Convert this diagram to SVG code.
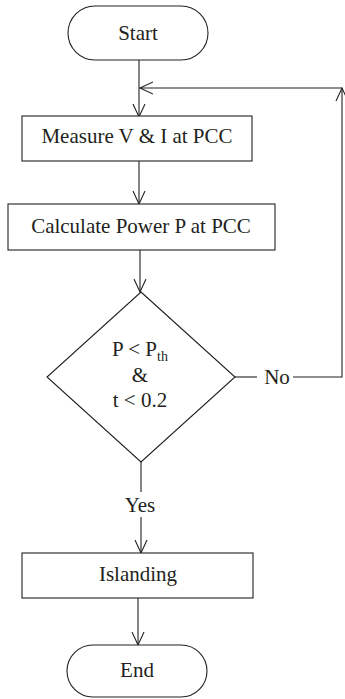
<svg xmlns="http://www.w3.org/2000/svg" width="345" height="699" viewBox="0 0 345 699">
<defs>
<marker id="ah" markerWidth="16" markerHeight="16" refX="13" refY="7" orient="auto" markerUnits="userSpaceOnUse">
<path d="M0,1 L13,7 L0,13" fill="none" stroke="#231f20" stroke-width="1.1"/>
</marker>
</defs>
<style>
.s{fill:#fff;stroke:#231f20;stroke-width:1.1}
.c{fill:none;stroke:#231f20;stroke-width:1.1}
text{font-family:"Liberation Serif","Times New Roman",serif;font-size:21px;fill:#231f20;text-anchor:middle}
</style>
<rect width="345" height="699" fill="#fff"/>
<g id="connectors">
<path class="c" d="M139,60 V117" marker-end="url(#ah)"/>
<path class="c" d="M139,161 V204" marker-end="url(#ah)"/>
<path class="c" d="M140,250 V292" marker-end="url(#ah)"/>
<path class="c" d="M141,462 V492"/>
<path class="c" d="M141,517 V553" marker-end="url(#ah)"/>
<path class="c" d="M138,598 V645" marker-end="url(#ah)"/>
<path class="c" d="M235,377 H257"/>
<path class="c" d="M293,377 H342 V88" marker-end="url(#ah)"/>
<path class="c" d="M342,88 H140" marker-end="url(#ah)"/>
<text x="277" y="384">No</text>
<text x="140" y="512">Yes</text>
</g>
<g id="start">
<rect class="s" x="68" y="6" width="140" height="54" rx="27"/>
<text x="138" y="40">Start</text>
</g>
<g id="measure">
<rect class="s" x="22" y="116" width="230" height="45"/>
<text x="137" y="143">Measure V &amp; I at PCC</text>
</g>
<g id="calculate">
<rect class="s" x="8" y="204" width="267" height="46"/>
<text x="141" y="233">Calculate Power P at PCC</text>
</g>
<g id="decision">
<path class="s" d="M141,292 L235,377 L141,462 L47,377 Z"/>
<text x="140" y="356">P &lt; P<tspan font-size="14" dy="5">th</tspan></text>
<text x="140" y="382">&amp;</text>
<text x="140" y="407">t &lt; 0.2</text>
</g>
<g id="islanding">
<rect class="s" x="22" y="553" width="231" height="45"/>
<text x="138" y="581">Islanding</text>
</g>
<g id="end">
<rect class="s" x="67" y="645" width="140" height="52" rx="26"/>
<text x="137" y="677">End</text>
</g>
</svg>
